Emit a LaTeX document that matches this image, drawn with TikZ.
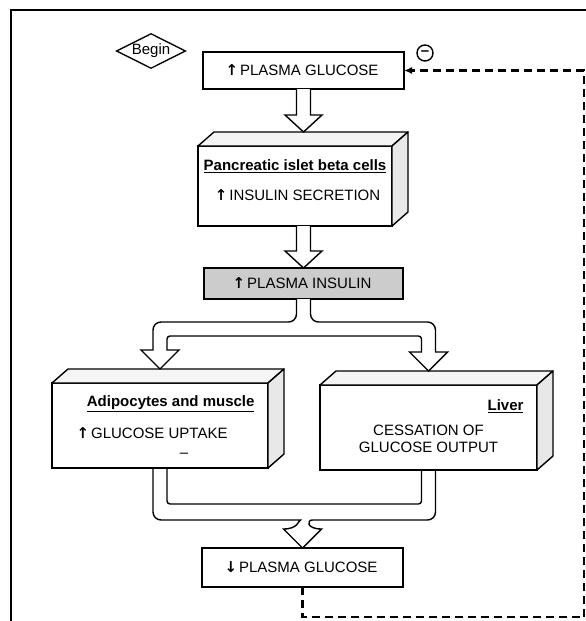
\documentclass[tikz,border=0pt]{standalone}
\usepackage{fontspec}
\setmainfont{Liberation Sans}
\newfontfamily\arrowfont{DejaVu Sans}
\usetikzlibrary{arrows.meta,positioning,calc,shapes.geometric}

% bold up / down arrows of the labels
\newcommand\incr{{\arrowfont\bfseries\kern-3pt↑\kern-0.5pt}}
\newcommand\decr{{\arrowfont\bfseries\kern-3pt↓\kern-0.5pt}}
% hollow block arrow straight down, from #1 to the y of #2
\newcommand\blockdown[2]{%
  \draw[blockarrow] let \p1=(#1), \p2=(#2) in
    (\x1-7pt,\y1) -- (\x1-7pt,\y2+17pt) -- (\x1-18.5pt,\y2+17pt) -- (\x1,\y2)
    -- (\x1+18.5pt,\y2+17pt) -- (\x1+7pt,\y2+17pt) -- (\x1+7pt,\y1);}
% top and side faces of a 3D slab
\newcommand\slabfaces[1]{%
  \draw[topface] (#1.north west) -- ++(16,-14) -- ([shift={(16,-14)}]#1.north east) -- (#1.north east) -- cycle;
  \draw[sideface] (#1.north east) -- ++(16,-14) -- ([shift={(16,-14)}]#1.south east) -- (#1.south east) -- cycle;}

\begin{document}
\begin{tikzpicture}[x=1pt, y=-1pt,
  font=\fontsize{15}{17}\selectfont,
  box/.style={draw, line width=1.4pt, fill=white, outer sep=0pt, inner sep=0pt, align=center},
  topface/.style={draw, line width=1.4pt, line join=round, fill=gray!8},
  sideface/.style={draw, line width=1.4pt, line join=round, fill=gray!18},
  title/.style={font=\fontsize{15}{17}\selectfont\bfseries},
  blockarrow/.style={draw, fill=white, line width=1.4pt, line join=miter},
  blockline/.style={draw, line width=1.4pt},
  feedback/.style={-{Latex[length=8pt,width=7pt]}, line width=2.2pt, dash pattern=on 8pt off 5pt},
]
\useasboundingbox (0,0) rectangle (586,621);
% frame
\draw[line width=1.6pt] (11,621) -- (11,10) -- (586,10);
% start
\node[draw, diamond, aspect=2, line width=1.3pt, inner sep=0.5pt, minimum width=68pt, minimum height=35pt,
  font=\fontsize{15}{17}\selectfont] (begin) at (151,51) {Begin};
% boxes
\node[box, minimum width=201pt, minimum height=37pt] (pg1) at (303.5,70.5) {\incr\,PLASMA GLUCOSE};
\node[box, minimum width=194pt, minimum height=80pt] (panc) at (295,186) {};
\node[box, minimum width=199pt, minimum height=31pt, fill=gray!40] (ins) at (303.5,283.5) {\incr\,PLASMA INSULIN};
\node[box, minimum width=216pt, minimum height=85pt] (adip) at (160,425.5) {};
\node[box, minimum width=217pt, minimum height=85pt] (liver) at (428.5,427.5) {};
\node[box, minimum width=201pt, minimum height=39pt] (pg2) at (302.5,567.5) {\decr\,PLASMA GLUCOSE};
\slabfaces{panc}
\slabfaces{adip}
\slabfaces{liver}
% texts in the slabs
\node[title] (panctitle) at ($(panc.north)+(0,20)$) {\underline{Pancreatic islet beta cells}};
\node (panctext) at ($(panc.center)+(4,9)$) {\incr\,INSULIN SECRETION};
\node[title, anchor=east] (adiptitle) at ($(adip.north east)+(-10,21)$) {\underline{Adipocytes and muscle}};
\node[anchor=west] (adiptext) at ($(adip.north west)+(24,50)$) {\incr\,GLUCOSE UPTAKE};
\node (adipdash) at ($(adip.south)+(24,-13)$) {–};
\node[title, anchor=east] (livertitle) at ($(liver.north east)+(-10,21)$) {\underline{Liver}};
\node[align=center] (livertext) at ($(liver.center)+(0,11)$) {CESSATION OF\\GLUCOSE OUTPUT};
% block arrows
\blockdown{pg1.south}{$(panc.north)+(0,-14)$}
\blockdown{pg1.south |- panc.south}{ins.north}
\draw[blockarrow] let \p1=(ins.south), \p2=($(adip.north)+(0,-14)$), \p3=($(liver.north)+(0,-14)$) in
  (\x1-7pt,\y1) [rounded corners=8pt] -- (\x1-7pt,\y1-23pt) -- (\x2-7pt,\y1-23pt) [sharp corners] -- (\x2-7pt,\y2+19pt)
  -- (\x2-19pt,\y2+19pt) -- (\x2,\y2) -- (\x2+19pt,\y2+19pt) -- (\x2+7pt,\y2+19pt)
  [rounded corners=3pt] -- (\x2+7pt,\y1-37pt) -- (\x3-7pt,\y1-37pt) [sharp corners] -- (\x3-7pt,\y3+19pt)
  -- (\x3-19pt,\y3+19pt) -- (\x3,\y3) -- (\x3+19pt,\y3+19pt) -- (\x3+7pt,\y3+19pt)
  [rounded corners=8pt] -- (\x3+7pt,\y1-23pt) -- (\x1+7pt,\y1-23pt) [sharp corners] -- (\x1+7pt,\y1);
\draw[blockline] let \p1=(adip.south), \p2=(liver.south), \p3=(pg2.north) in
  (\x1-7pt,\y1) [rounded corners=8pt] -- (\x1-7pt,\y3+28pt) -- (\x3-10pt,\y3+28pt) [sharp corners]
  .. controls (\x3-4pt,\y3+28pt) and (\x3-4pt,\y3+19pt) .. (\x3-19pt,\y3+19pt)
  -- (\x3,\y3) -- (\x3+19pt,\y3+19pt)
  .. controls (\x3+4pt,\y3+19pt) and (\x3+4pt,\y3+28pt) .. (\x3+10pt,\y3+28pt)
  [rounded corners=8pt] -- (\x2+7pt,\y3+28pt) -- (\x2+7pt,\y2);
\draw[blockline, rounded corners=3pt] ($(adip.south)+(7,0)$) |- ($(liver.south)+(-7,34)$) -- ($(liver.south)+(-7,0)$);
% negative feedback
\coordinate (fbcorner) at (584,617);
\draw[feedback] (pg2.south) |- (fbcorner) |- (pg1.east);
\node[draw, circle, line width=1.4pt, minimum size=16pt, inner sep=0pt, font=\fontsize{15}{17}\selectfont\bfseries] (inhib) at (425,53) {–};
\end{tikzpicture}
\end{document}
